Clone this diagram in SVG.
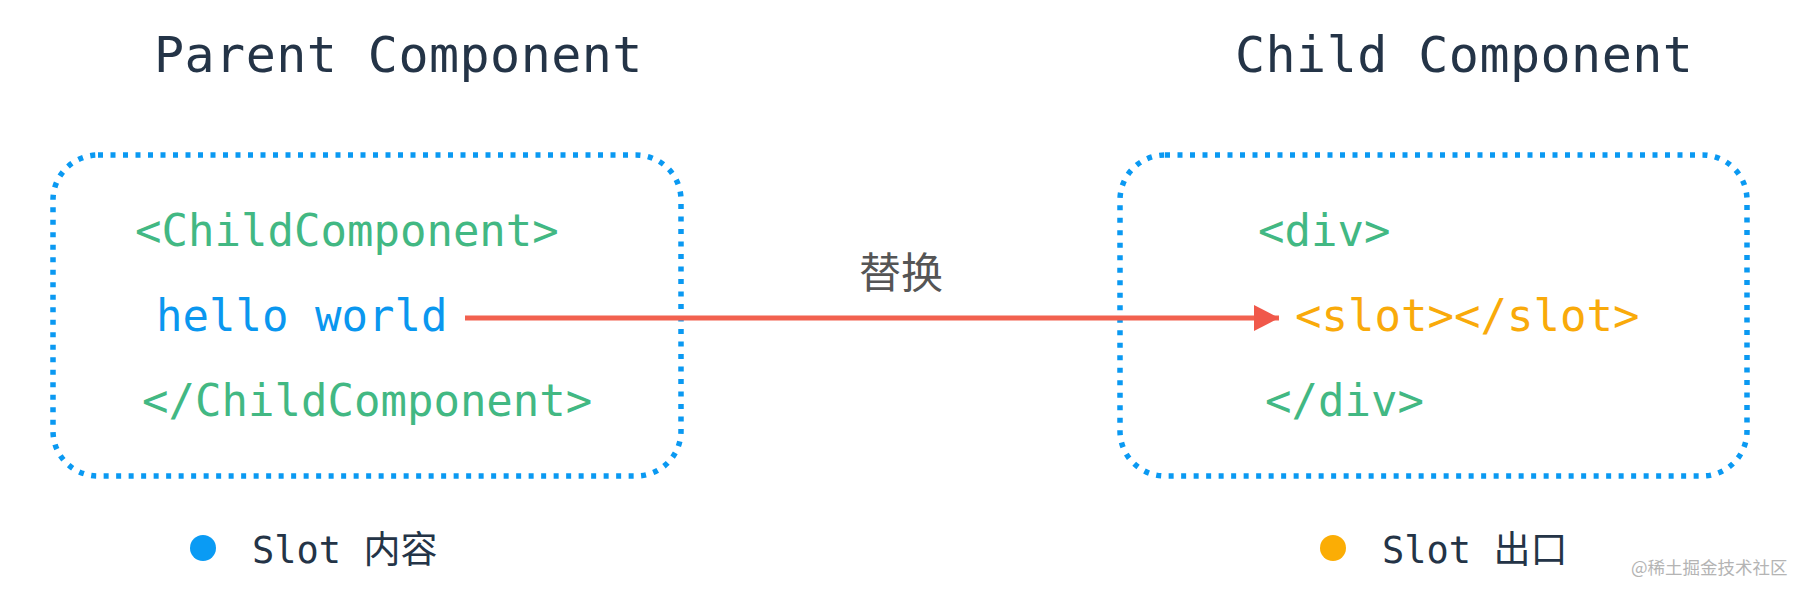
<svg xmlns="http://www.w3.org/2000/svg" width="1810" height="596" viewBox="0 0 1810 596">
<style>
.title{font-family:"DejaVu Sans Mono","Liberation Mono",monospace;font-size:50px;fill:#243447;letter-spacing:0.45px}
.code{font-family:"DejaVu Sans Mono","Liberation Mono",monospace;font-size:44px}
.green{fill:#42b883}
.blue{fill:#0a97ef}
.orange{fill:#f9aa0a}
.box{fill:none;stroke:#0a99f2;stroke-width:5.5;stroke-dasharray:5 7.5}
.legend{font-family:"DejaVu Sans Mono","Noto Sans CJK SC",monospace;font-size:37px;fill:#243447}
.label{font-family:"Noto Sans CJK SC","Noto Sans",sans-serif;font-size:42px;fill:#555555}
.wm{font-family:"Noto Sans CJK SC",sans-serif;font-size:17.5px;fill:#b4b4b4}
</style>
<defs>
<marker id="arrow" markerUnits="userSpaceOnUse" markerWidth="26" markerHeight="26" refX="25" refY="13" orient="auto">
<path d="M0,0 L25,13 L0,26 Z" fill="#f0584a"/>
</marker>
</defs>
<g id="parent-title"><text class="title" x="154" y="72">Parent Component</text></g>
<g id="child-title"><text class="title" x="1235" y="72">Child Component</text></g>
<g id="parent-component">
<rect class="box" x="53" y="155" width="628" height="321" rx="45" ry="45"/>
<text class="code green" x="135" y="246">&lt;ChildComponent&gt;</text>
<text class="code blue" x="156" y="331">hello world</text>
<text class="code green" x="142" y="416">&lt;/ChildComponent&gt;</text>
</g>
<g id="child-component">
<rect class="box" x="1120" y="155" width="627" height="321" rx="45" ry="45"/>
<text class="code green" x="1258" y="246">&lt;div&gt;</text>
<text class="code orange" x="1295" y="331">&lt;slot&gt;&lt;/slot&gt;</text>
<text class="code green" x="1265" y="416">&lt;/div&gt;</text>
</g>
<g id="connectors">
<line x1="465" y1="318" x2="1279" y2="318" stroke="#f2614f" stroke-width="5" marker-end="url(#arrow)"/>
<text class="label" x="901" y="288" text-anchor="middle">替换</text>
</g>
<g id="legend-content">
<circle cx="203" cy="548" r="13" fill="#0a9bf4"/>
<text class="legend" x="252" y="563">Slot 内容</text>
</g>
<g id="legend-outlet">
<circle cx="1333" cy="548" r="13" fill="#fbad05"/>
<text class="legend" x="1382" y="563">Slot 出口</text>
</g>
<g id="watermark"><text class="wm" x="1631" y="574">@稀土掘金技术社区</text></g>
</svg>
